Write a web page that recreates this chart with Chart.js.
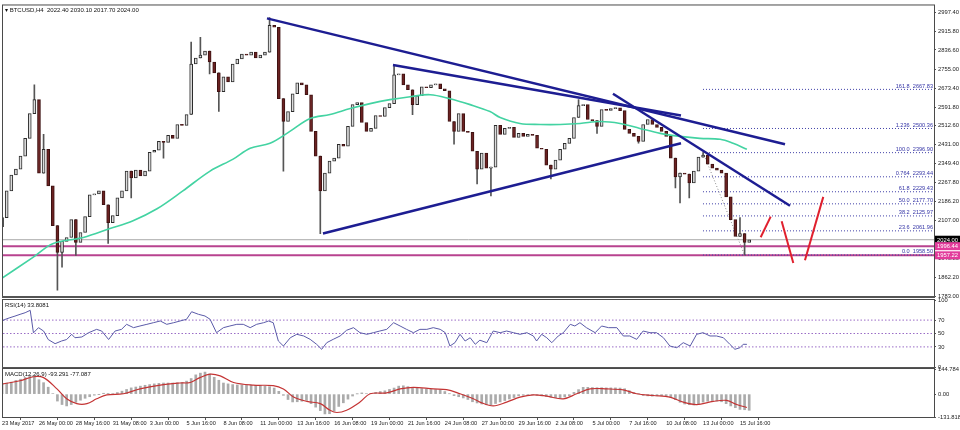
<!DOCTYPE html>
<html>
<head>
<meta charset="utf-8">
<script src="https://cdn.jsdelivr.net/npm/chart.js@4.4.1/dist/chart.umd.min.js"></script>
<style>
  html, body { margin: 0; padding: 0; background: #fff; }
  #wrap { position: relative; width: 960px; height: 430px; overflow: hidden; background: #fff; }
  canvas { position: absolute; left: 0; top: 0; }
</style>
</head>
<body>
<div id="wrap">
  <canvas id="main" width="960" height="430"></canvas>
  <canvas id="rsi" width="960" height="430"></canvas>
  <canvas id="macd" width="960" height="430"></canvas>
</div>
<script>
// BTCUSD H4, one candle per 8 hours
const firstOpen = 2080;
const closes = [
  2118.5, 2233.1, 2301.1, 2326.5, 2381.7, 2458.2, 2564.3, 2623.8, 2309.5, 2411.5,
  2254.3, 2084.5, 1969.9, 2016.6, 2033.6, 2110.0, 2012.3, 2054.8, 2122.7, 2216.1,
  2220.4, 2233.1, 2173.7, 2097.2, 2127.0, 2203.4, 2233.1, 2318.0, 2288.3, 2322.3,
  2296.8, 2318.0, 2398.7, 2407.2, 2445.4, 2441.2, 2470.9, 2458.2, 2517.6, 2513.4,
  2560.1, 2776.6, 2802.1, 2814.8, 2831.8, 2785.1, 2738.4, 2657.7, 2721.4, 2700.2,
  2776.6, 2797.8, 2819.1, 2814.8, 2827.6, 2802.1, 2814.8, 2827.6, 2942.2, 2933.7,
  2628.0, 2530.3, 2572.8, 2649.2, 2695.9, 2687.4, 2645.0, 2487.9, 2381.7, 2233.1,
  2309.5, 2360.5, 2373.2, 2432.7, 2424.2, 2509.1, 2602.5, 2611.0, 2526.1, 2487.9,
  2500.6, 2555.8, 2551.6, 2589.8, 2606.8, 2729.9, 2734.1, 2687.4, 2666.2, 2602.5,
  2640.7, 2678.9, 2674.7, 2687.4, 2691.7, 2670.5, 2662.0, 2530.3, 2487.9, 2564.3,
  2487.9, 2483.6, 2403.0, 2326.5, 2394.5, 2330.8, 2335.0, 2513.4, 2475.1, 2500.6,
  2504.9, 2462.4, 2479.4, 2466.6, 2475.1, 2471.0, 2415.7, 2411.5, 2343.5, 2326.5,
  2364.7, 2411.5, 2436.9, 2458.2, 2547.3, 2598.3, 2602.5, 2538.8, 2534.0, 2509.1,
  2581.3, 2577.8, 2585.5, 2589.0, 2577.0, 2496.4, 2479.4, 2466.6, 2445.4, 2517.6,
  2538.8, 2517.6, 2504.9, 2487.9, 2466.6, 2373.2, 2292.6, 2309.5, 2305.0, 2267.1,
  2318.0, 2377.5, 2386.0, 2347.8, 2330.8, 2322.3, 2309.5, 2207.6, 2110.0, 2037.8,
  2050.5, 2012.3, 2024.0
];
// long wicks that stand out: [bar, price]
const spikeHigh = [[7, 2687], [9, 2475], [41, 2870], [43, 2891], [58, 2975], [85, 2772], [125, 2624], [152, 2396.9], [160, 2118.5]];
const spikeLow = [[12, 1808], [13, 1906], [16, 1957], [23, 2008], [28, 2203], [35, 2373], [45, 2734], [47, 2573], [61, 2318],
  [69, 2050], [89, 2560], [98, 2433], [103, 2263], [106, 2212], [119, 2284], [129, 2479], [138, 2437], [146, 2246],
  [147, 2182], [149, 2203], [161, 1958.5]];

// green moving average
const maX = [0, 6.7, 11.1, 17.6, 23.4, 28.4, 33.6, 39.2, 45.1, 50.1, 53.8, 58.1, 62.4, 66.8, 71.1, 75.5, 79.8, 84.1, 88.5, 92.8,
  97.1, 101.5, 105.8, 108.0, 112.3, 116.7, 121.0, 125.3, 129.7, 134.0, 138.3, 142.7, 147.0, 151.3, 155.7, 158.5, 161.5];
const maV = [1859.5, 1948.6, 2008.1, 2033.6, 2071.8, 2105.7, 2156.7, 2233.1, 2318.0, 2369.0, 2415.7, 2436.9, 2487.9, 2543.1, 2560.1,
  2585.5, 2606.8, 2623.8, 2636.5, 2645.0, 2628.0, 2602.5, 2572.8, 2547.3, 2521.8, 2517.6, 2517.6, 2521.8, 2530.3, 2521.8,
  2500.6, 2479.4, 2466.6, 2458.2, 2453.9, 2436.9, 2411.5];

// drawn lines: [[bar, price], [bar, price]]
const trendLines = [
  [[57.44, 2971.9], [169.76, 2432.7]],
  [[84.76, 2772.4], [147.21, 2555.8]],
  [[69.58, 2050.5], [147.21, 2436.9]],
  [[132.46, 2649.2], [170.84, 2169.4]]
];
const redLines = [
  [[164.49, 2034.8], [166.66, 2122.7]],
  [[169.04, 2102.8], [171.56, 1924.4]],
  [[174.09, 1935.9], [178.06, 2207.6]]
];

const fibNames = ["161.8", "1.236", "100.0", "0.764", "61.8", "50.0", "38.2", "23.6", "0.0"];
const fibLevels = [2667.83, 2500.36, 2396.90, 2293.44, 2229.43, 2177.70, 2125.97, 2061.96, 1958.50];
const fibFrom = 151.98;
const fibDiag = [[152, 2396.90], [161, 1958.50]];

const bidLevel = 2024.00;
const zoneLevels = [1996.44, 1957.22];

const priceTicks = [2997.40, 2915.80, 2836.60, 2755.00, 2673.40, 2591.80, 2512.60, 2431.00, 2349.40,
  2267.80, 2186.20, 2107.00, 1943.80, 1862.20, 1783.00];

// RSI(14)
const rsiX = [0, 0.65, 1.7, 2.8, 3.9, 5.0, 6.1, 6.8, 7.9, 9.0, 10.0, 11.5, 12.9, 14.0, 15.1, 15.8, 17.3, 18.7, 20.5, 21.6,
  23.1, 24.5, 25.9, 27.0, 28.5, 29.9, 31.4, 32.8, 34.3, 35.7, 37.2, 38.6, 40.0, 41.1, 42.6, 44.0, 45.1, 46.5, 48.0, 49.4,
  50.9, 52.3, 53.8, 55.2, 56.7, 57.8, 58.8, 59.9, 61.0, 62.5, 63.9, 65.4, 66.8, 68.2, 69.3, 70.4, 71.8, 73.3, 74.7, 76.2,
  77.6, 79.1, 80.5, 81.9, 83.4, 84.9, 86.3, 87.7, 89.2, 90.6, 92.1, 93.5, 95.0, 96.1, 97.1, 98.2, 99.3, 100.4, 101.5, 102.6,
  103.6, 105.1, 106.5, 108.0, 109.4, 110.9, 112.3, 113.8, 115.2, 115.9, 117.0, 118.1, 119.2, 120.6, 121.7, 123.2, 124.2, 125.3, 126.7, 128.6,
  130.0, 131.5, 133.3, 134.7, 136.1, 137.6, 139.0, 140.5, 141.9, 143.4, 144.8, 146.3, 147.7, 149.2, 150.6, 152.0, 153.5, 154.9, 156.4, 157.8,
  158.9, 160.0, 160.7, 161.5];
const rsiV = [68.7, 71, 73.6, 76, 78.6, 81, 84.6, 51, 58.7, 53.7, 41, 34.8, 38.8, 41, 48.8, 43.7, 44.8, 51, 56.2, 53.7,
  41, 53.7, 56.2, 63.7, 58.7, 61.2, 63.7, 66.1, 68.7, 63.7, 66.1, 68.7, 71.2, 82.5, 78.6, 76.1, 71.2, 51.2, 58.7, 61.2,
  63.7, 63.7, 58.7, 63.7, 66.1, 68.7, 66.1, 38.8, 31.3, 43.7, 48.8, 46.3, 41.3, 33.9, 26.4, 36.3, 41.3, 46.3, 54.8, 58.7,
  51.2, 48.8, 51.2, 53.7, 56.2, 66.1, 61.2, 56.2, 51.2, 56.2, 56.2, 58.7, 56.2, 51.2, 31.3, 36.3, 48.8, 38.8, 43.7, 33.9,
  40, 36.3, 53.7, 51.2, 53.7, 51.2, 48.8, 51.2, 46.3, 38.8, 48.8, 43.7, 36.3, 46.3, 51.2, 63.7, 61.2, 66.1, 58.7, 51.2,
  61.2, 58.7, 58.7, 46.3, 46.3, 41.3, 53.7, 51.2, 51.2, 43.7, 31.3, 28.8, 36.3, 31.3, 48.8, 51.2, 46.3, 46.3, 43.7, 33.9,
  26.4, 28.8, 33.9, 33.8];
const rsiLevels = [70, 50, 30];

// MACD(12,26,9): histogram per bar, signal line
const macdHist = [
  60, 64, 69, 79, 86, 96, 104, 100, 83, 66,
  40, 3, -40, -60, -68, -60, -47, -35, -24, -15,
  -6, -1, 5, 4, 3, 9, 17, 27, 36, 41,
  46, 51, 55, 59, 62, 64, 64, 64, 65, 67,
  75, 90, 111, 121, 127, 116, 97, 80, 64, 59,
  55, 53, 52, 52, 52, 51, 50, 46, 43, 35,
  16, -7, -31, -45, -44, -41, -36, -55, -75, -95,
  -114, -113, -98, -71, -50, -29, -11, 1, 7, 3,
  4, 10, 15, 19, 27, 35, 46, 48, 43, 39,
  35, 32, 30, 27, 26, 25, 15, 2, -9, -15,
  -22, -31, -44, -51, -57, -61, -63, -54, -45, -37,
  -28, -20, -10, -7, -5, -5, -7, -10, -14, -18,
  -21, -22, -16, -9, 10, 26, 39, 39, 38, 37,
  37, 36, 36, 36, 35, 31, 20, 9, 1, -8,
  -10, -12, -10, -9, -13, -20, -32, -47, -57, -61,
  -63, -55, -46, -41, -37, -40, -44, -55, -68, -78,
  -88, -90, -93.3
];
const sigX = [0, 3.9, 6.8, 9.0, 11.9, 14.0, 16.2, 18.4, 20.5, 22.7, 26.3, 29.9, 34.3, 38.6, 40.8, 42.9, 45.1, 47.3, 50.2, 54.5,
  58.8, 61.0, 63.2, 66.1, 69.0, 71.1, 72.6, 74.7, 77.6, 79.8, 83.4, 86.3, 89.2, 93.5, 96.4, 99.3, 102.2, 103.6, 106.5, 109.4,
  112.3, 115.2, 118.1, 121.7, 124.6, 127.5, 131.1, 134.7, 137.6, 141.2, 144.8, 147.7, 150.6, 154.2, 157.1, 159.3, 161.5];
const sigV = [58, 77, 100, 95, 30, -27, -55, -55, -27, -4, 2, 30, 52, 64, 67, 95, 115, 105, 67, 52,
  49, 30, -17, -42, -55, -93, -106, -93, -46, 2, 7, 30, 39, 30, 26, 2, -27, -46, -68, -46,
  -17, -4, -12, -27, 2, 30, 30, 24, 2, -8, -17, -46, -60, -42, -36, -60, -77.1];
const macdTicks = [144.784, 0, -131.818];

const dateLabels = ["23 May 2017", "26 May 00:00", "28 May 16:00", "31 May 08:00", "3 Jun 00:00", "5 Jun 16:00",
  "8 Jun 08:00", "11 Jun 00:00", "13 Jun 16:00", "16 Jun 08:00", "19 Jun 00:00", "21 Jun 16:00", "24 Jun 08:00",
  "27 Jun 00:00", "29 Jun 16:00", "2 Jul 08:00", "5 Jul 00:00", "7 Jul 16:00", "10 Jul 08:00", "13 Jul 00:00", "15 Jul 16:00"];

const FONT = "'Liberation Sans', 'DejaVu Sans', sans-serif";
const X_MIN = 0.2, X_MAX = 202.07;

// ---- helpers
function hline(y, color, width, dash, order, x0) {
  return {
    type: 'line', data: [{ x: x0 ?? X_MIN, y }, { x: X_MAX, y }],
    borderColor: color, borderWidth: width, borderDash: dash || [],
    pointRadius: 0, order
  };
}
function seg(pts, color, width, order, dash) {
  return {
    type: 'line', data: pts.map(p => ({ x: p[0], y: p[1] })),
    borderColor: color, borderWidth: width, borderDash: dash || [],
    pointRadius: 0, order
  };
}
function xAxis(show) {
  return {
    type: 'linear', min: X_MIN, max: X_MAX, offset: false, display: show,
    afterBuildTicks: s => { s.ticks = dateLabels.map((_, k) => ({ value: k * 8 })); },
    afterFit: s => { s.height = show ? 13 : 0; },
    ticks: {
      align: 'start', maxRotation: 0, autoSkip: false, padding: 0,
      font: { family: FONT, size: 5.6 }, color: '#222',
      callback: v => dateLabels[Math.round(v / 8)]
    },
    grid: { drawOnChartArea: false, tickLength: 3, color: '#555' },
    border: { color: '#555' }
  };
}
function yAxis(min, max, vals, fmt) {
  return {
    position: 'right', min, max,
    afterBuildTicks: s => { s.ticks = vals.map(v => ({ value: v })); },
    afterFit: s => { s.width = 26; },
    ticks: { font: { family: FONT, size: 5.8 }, color: '#222', padding: 2, autoSkip: false, callback: fmt },
    grid: { drawOnChartArea: false, tickLength: 2, color: '#555' },
    border: { color: '#555' }
  };
}

const frame = {
  id: 'frame',
  afterDraw(chart, args, opts) {
    const { ctx, chartArea: a } = chart;
    ctx.save();
    ctx.strokeStyle = '#4a4a4a';
    ctx.lineWidth = 1;
    ctx.strokeRect(a.left - 0.5, a.top - 0.5, a.right - a.left + 1, a.bottom - a.top + 1);
    if (opts.thick) {
      ctx.lineWidth = 2;
      ctx.strokeStyle = '#555';
      ctx.beginPath();
      ctx.moveTo(a.left - 1, a.bottom + 1);
      ctx.lineTo(a.right + 1, a.bottom + 1);
      ctx.stroke();
    }
    if (opts.title) {
      ctx.font = `6px ${FONT}`;
      ctx.fillStyle = '#111';
      ctx.textAlign = 'left';
      ctx.textBaseline = 'middle';
      ctx.fillText(opts.title, a.left + 2, a.top + 5);
    }
    ctx.restore();
  }
};

// ---- main price panel
const opens = closes.map((c, i) => i === 0 ? firstOpen : closes[i - 1]);
const hiMap = new Map(spikeHigh), loMap = new Map(spikeLow);
const wickIdx = [...new Set([...hiMap.keys(), ...loMap.keys()])];
const wicks = wickIdx.map(i => ({
  x: i,
  y: [loMap.get(i) ?? Math.min(opens[i], closes[i]), hiMap.get(i) ?? Math.max(opens[i], closes[i])]
}));
const bodies = closes.map((c, i) => ({ x: i, y: [opens[i], c] }));
const bodyFill = closes.map((c, i) => c >= opens[i] ? '#dcdcdc' : '#6b2222');
const bodyEdge = closes.map((c, i) => c >= opens[i] ? '#2b2b2b' : '#3d1212');

const mainOverlay = {
  id: 'mainOverlay',
  afterDraw(chart) {
    const { ctx, chartArea: a } = chart;
    const ys = chart.scales.y;
    ctx.save();
    ctx.font = `5.6px ${FONT}`;
    ctx.fillStyle = '#3434a6';
    ctx.textAlign = 'right';
    ctx.textBaseline = 'bottom';
    fibLevels.forEach((lv, k) => {
      ctx.fillText(`${fibNames[k]}  ${lv.toFixed(2)}`, a.right - 1, ys.getPixelForValue(lv) - 0.5);
    });
    const boxes = [[bidLevel, '#000000'], [zoneLevels[0], '#e23b9b'], [zoneLevels[1], '#e23b9b']];
    ctx.font = `5.8px ${FONT}`;
    ctx.textAlign = 'left';
    ctx.textBaseline = 'middle';
    boxes.forEach(([v, bg]) => {
      const y = ys.getPixelForValue(v);
      ctx.fillStyle = bg;
      ctx.fillRect(a.right + 1, y - 4, 26, 8);
      ctx.fillStyle = '#fff';
      ctx.fillText(v.toFixed(2), a.right + 3, y + 0.5);
    });
    ctx.restore();
  }
};

new Chart(document.getElementById('main'), {
  type: 'bar',
  data: {
    datasets: [
      ...redLines.map(l => seg(l, '#e0202e', 2, 3)),
      ...trendLines.map(l => seg(l, '#1d1d92', 2.5, 4)),
      {
        type: 'line', data: maX.map((x, k) => ({ x, y: maV[k] })),
        borderColor: '#43d3a2', borderWidth: 1.6, pointRadius: 0, tension: 0.35, order: 8
      },
      {
        data: bodies, backgroundColor: bodyFill, borderColor: bodyEdge, borderWidth: 1,
        barThickness: 3, minBarLength: 1, grouped: false, order: 10, borderSkipped: false
      },
      {
        data: wicks, backgroundColor: '#555', barThickness: 1, grouped: false, order: 11
      },
      seg(fibDiag, '#8a8a8a', 1, 15, [1, 2]),
      ...fibLevels.map(lv => hline(lv, '#4040a8', 1, [1, 2], 16, fibFrom)),
      hline(bidLevel, '#a8a8a8', 1, [], 18),
      ...zoneLevels.map(lv => hline(lv, '#b8438f', 2, [], 17))
    ]
  },
  options: {
    responsive: false, animation: false, events: [],
    layout: { padding: { top: 3, bottom: 134, left: 3, right: 0 } },
    scales: {
      x: xAxis(false),
      y: yAxis(1783.0, 3027.1, priceTicks, v => v.toFixed(2))
    },
    plugins: {
      legend: { display: false }, tooltip: { enabled: false },
      frame: { thick: true, title: '\u25BE BTCUSD,H4  2022.40 2030.10 2017.70 2024.00' }
    }
  },
  plugins: [frame, mainOverlay]
});

// ---- RSI panel
new Chart(document.getElementById('rsi'), {
  type: 'line',
  data: {
    datasets: [
      {
        data: rsiX.map((x, k) => ({ x, y: rsiV[k] })),
        borderColor: '#5a5aa8', borderWidth: 1, pointRadius: 0, tension: 0, order: 1
      },
      ...rsiLevels.map(lv => hline(lv, '#9a6cc6', 1, [1.5, 2], 5))
    ]
  },
  options: {
    responsive: false, animation: false, events: [],
    layout: { padding: { top: 300, bottom: 63, left: 3, right: 0 } },
    scales: {
      x: xAxis(false),
      y: yAxis(0, 100, [100, 70, 50, 30, 0], v => String(v))
    },
    plugins: {
      legend: { display: false }, tooltip: { enabled: false },
      frame: { thick: true, title: 'RSI(14) 33.8081' }
    }
  },
  plugins: [frame]
});

// ---- MACD panel
new Chart(document.getElementById('macd'), {
  type: 'bar',
  data: {
    datasets: [
      {
        type: 'line', data: sigX.map((x, k) => ({ x, y: sigV[k] })),
        borderColor: '#c43434', borderWidth: 1.2, pointRadius: 0, tension: 0.35, order: 1
      },
      {
        data: macdHist.map((v, i) => ({ x: i, y: v })),
        backgroundColor: '#ababab', barThickness: 2, order: 2
      }
    ]
  },
  options: {
    responsive: false, animation: false, events: [],
    layout: { padding: { top: 369, bottom: 0, left: 3, right: 0 } },
    scales: {
      x: xAxis(true),
      y: yAxis(-131.818, 144.784, macdTicks, v => v === 0 ? '0.00' : String(v))
    },
    plugins: {
      legend: { display: false }, tooltip: { enabled: false },
      frame: { thick: false, title: 'MACD(12,26,9) -93.291 -77.087' }
    }
  },
  plugins: [frame]
});
</script>
</body>
</html>
